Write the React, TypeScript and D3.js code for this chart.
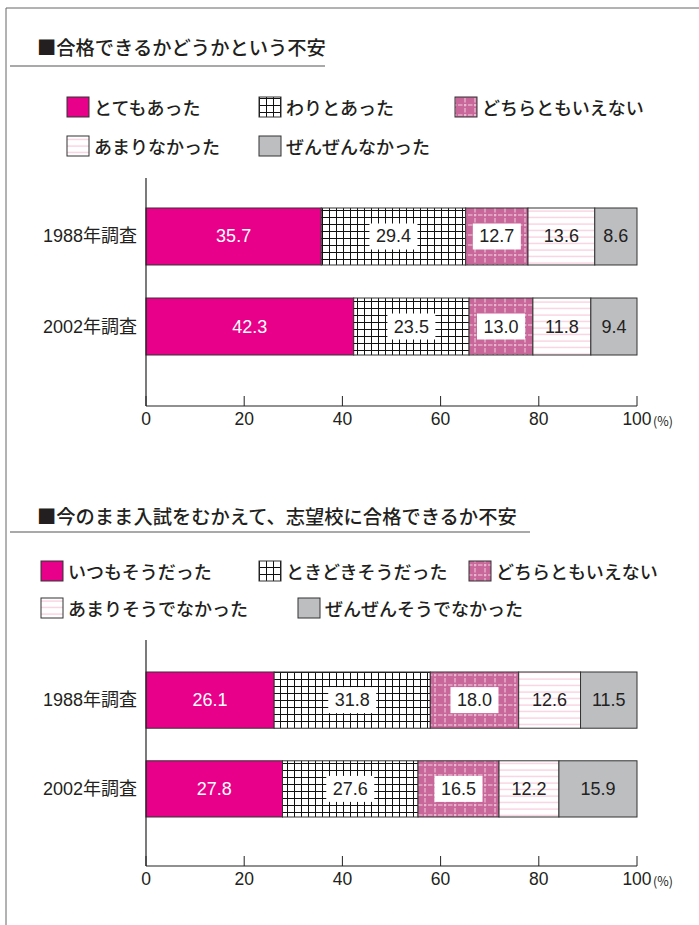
import { scaleLinear, scaleBand } from "d3";

// ---- data ----
const years = ["1988年調査", "2002年調査"];
const ticks = [0, 20, 40, 60, 80, 100];

const titleA = "■合格できるかどうかという不安";
const seriesA = ["とてもあった", "わりとあった", "どちらともいえない", "あまりなかった", "ぜんぜんなかった"];
const valuesA = [
  [35.7, 29.4, 12.7, 13.6, 8.6],
  [42.3, 23.5, 13.0, 11.8, 9.4],
];

const titleB = "■今のまま入試をむかえて、志望校に合格できるか不安";
const seriesB = ["いつもそうだった", "ときどきそうだった", "どちらともいえない", "あまりそうでなかった", "ぜんぜんそうでなかった"];
const valuesB = [
  [26.1, 31.8, 18.0, 12.6, 11.5],
  [27.8, 27.6, 16.5, 12.2, 15.9],
];

// fills per series index (solid, grid, dashed mauve, pink lines, grey)
const FILLS = ["#e8008a", "url(#grid)", "url(#mauve)", "url(#lines)", "#bdbec0"];
const TEXT_COLOR = ["#fff", "#222", "#222", "#222", "#222"];
const BOXED = [false, true, true, false, false];

const JP = "'Noto Sans CJK JP', sans-serif";
const NUM = "'Liberation Sans', Arial, 'Noto Sans CJK JP', sans-serif";

type Layout = {
  titleY: number;
  titleLineY: number;
  titleLineX2: number;
  legend: { x: number; y: number }[];
  axisTop: number;
  axisY: number;
  bandTop: number;
  bandBottom: number;
};

const layoutA: Layout = {
  titleY: 47,
  titleLineY: 66,
  titleLineX2: 325,
  legend: [
    { x: 67, y: 107 },
    { x: 259, y: 107 },
    { x: 455, y: 107 },
    { x: 67, y: 146 },
    { x: 259, y: 146 },
  ],
  axisTop: 178,
  axisY: 406,
  bandTop: 208,
  bandBottom: 355,
};

const layoutB: Layout = {
  titleY: 516,
  titleLineY: 532,
  titleLineX2: 530,
  legend: [
    { x: 41, y: 571 },
    { x: 259, y: 571 },
    { x: 469, y: 571 },
    { x: 41, y: 608 },
    { x: 298, y: 608 },
  ],
  axisTop: 640,
  axisY: 866,
  bandTop: 672,
  bandBottom: 817,
};

const x = scaleLinear().domain([0, 100]).range([146, 637]);

function Panel({ title, series, values, L }: { title: string; series: string[]; values: number[][]; L: Layout }) {
  const y = scaleBand<string>().domain(years).range([L.bandTop, L.bandBottom]).paddingInner(0.367).paddingOuter(0);
  const bw = y.bandwidth();
  return (
    <g>
      <text x={37} y={L.titleY} dominantBaseline="central" fontFamily={JP} fontSize={19.3} fontWeight={500} fill="#231f20">
        {title}
      </text>
      <line x1={10} x2={L.titleLineX2} y1={L.titleLineY} y2={L.titleLineY} stroke="#555" strokeWidth={1.2} />

      {series.map((s, i) => (
        <g key={s}>
          <rect x={L.legend[i].x} y={L.legend[i].y - 10} width={22} height={20} fill={FILLS[i]} stroke="#333" strokeWidth={1} />
          <text x={L.legend[i].x + 27} y={L.legend[i].y} dominantBaseline="central" fontFamily={JP} fontSize={18} fontWeight={500} fill="#231f20">
            {s}
          </text>
        </g>
      ))}

      {years.map((yr, r) => {
        let acc = 0;
        const y0 = y(yr)!;
        return (
          <g key={yr}>
            <text x={137} y={y0 + bw / 2} textAnchor="end" dominantBaseline="central" fontFamily={NUM} fontSize={18} fill="#231f20">
              {yr}
            </text>
            {values[r].map((v, i) => {
              const x0 = x(acc);
              acc += v;
              const x1 = x(acc);
              const cx = (x0 + x1) / 2;
              return (
                <g key={i}>
                  <rect x={x0} y={y0} width={x1 - x0} height={bw} fill={FILLS[i]} stroke="#333" strokeWidth={1} />
                  {BOXED[i] && <rect x={cx - 24} y={y0 + bw / 2 - 13} width={48} height={26} fill="#fff" />}
                  <text x={cx} y={y0 + bw / 2} textAnchor="middle" dominantBaseline="central" fontFamily={NUM} fontSize={18} fill={TEXT_COLOR[i]}>
                    {v.toFixed(1)}
                  </text>
                </g>
              );
            })}
          </g>
        );
      })}

      <line x1={x(0)} x2={x(0)} y1={L.axisTop} y2={L.axisY} stroke="#222" strokeWidth={1.2} />
      <line x1={x(0)} x2={x(100)} y1={L.axisY} y2={L.axisY} stroke="#222" strokeWidth={1.2} />
      {ticks.map((t) => (
        <g key={t}>
          <line x1={x(t)} x2={x(t)} y1={L.axisY - 10} y2={L.axisY} stroke="#222" strokeWidth={1} />
          <text x={x(t)} y={L.axisY + 13} textAnchor="middle" dominantBaseline="central" fontFamily={NUM} fontSize={17.5} fill="#231f20">
            {t}
          </text>
        </g>
      ))}
      <text x={x(100) + 16} y={L.axisY + 14} dominantBaseline="central" fontFamily={JP} fontSize={12.5} fill="#231f20">
        (%)
      </text>
    </g>
  );
}

export default function App() {
  return (
    <svg width={699} height={925} style={{ position: "absolute", left: 0, top: 0, background: "#fff" }}>
      <defs>
        <pattern id="grid" patternUnits="userSpaceOnUse" width={7} height={7}>
          <rect width={7} height={7} fill="#fff" />
          <path d="M0,0.5H7M0.5,0V7" stroke="#111" strokeWidth={1} />
        </pattern>
        <pattern id="mauve" patternUnits="userSpaceOnUse" width={10} height={10}>
          <rect width={10} height={10} fill="#c9679a" />
          <path d="M0,5H10M5,0V10" stroke="#f6dbe8" strokeWidth={0.9} strokeDasharray="2.5,1.5" />
        </pattern>
        <pattern id="lines" patternUnits="userSpaceOnUse" width={6} height={6.5}>
          <rect width={6} height={6.5} fill="#fff" />
          <path d="M0,3H6" stroke="#f6bfd4" strokeWidth={1} />
        </pattern>
      </defs>
      <rect x={0} y={0} width={699} height={925} fill="#fff" />
      <path d="M6,925V8H699" fill="none" stroke="#666" strokeWidth={1} />
      <Panel title={titleA} series={seriesA} values={valuesA} L={layoutA} />
      <Panel title={titleB} series={seriesB} values={valuesB} L={layoutB} />
    </svg>
  );
}
